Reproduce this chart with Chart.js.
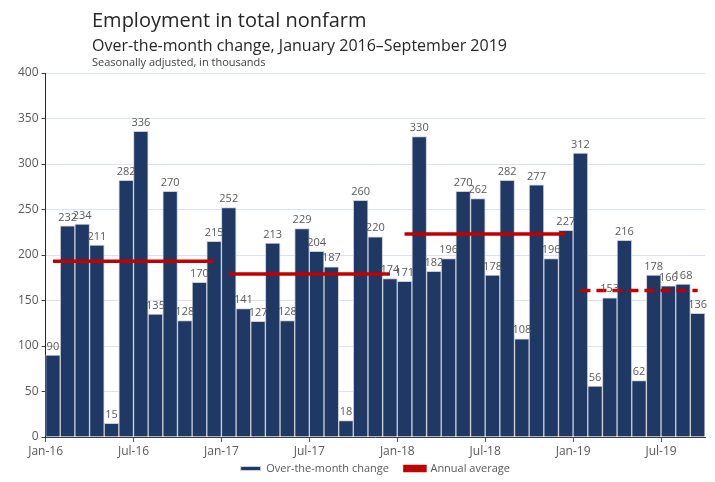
<!DOCTYPE html>
<html lang="en">
<head>
    <meta charset="UTF-8">
    <title>Employment in total nonfarm</title>
    <script src="https://cdn.jsdelivr.net/npm/chart.js"></script>
    <style>
        body {
            margin: 0;
            background: white;
            font-family: "Open Sans", Arial, sans-serif;
        }

        .wrap {
            position: relative;
            width: 715px;
            height: 482px;
        }

        .title {
            position: absolute;
            left: 92px;
            color: #262626;
            white-space: nowrap;
        }

        #t1 { top: 6px; font-size: 20px; }
        #t2 { top: 34px; font-size: 16px; }
        #t3 { top: 54px; font-size: 11px; color: #404040; }
    </style>
</head>
<body>
    <div class="wrap">
        <canvas id="chart" width="715" height="482"></canvas>
        <div class="title" id="t1">Employment in total nonfarm</div>
        <div class="title" id="t2">Over-the-month change, January 2016–September 2019</div>
        <div class="title" id="t3">Seasonally adjusted, in thousands</div>
    </div>

<script>
    const months = [
        'Jan-16', 'Feb-16', 'Mar-16', 'Apr-16', 'May-16', 'Jun-16', 'Jul-16', 'Aug-16', 'Sep-16', 'Oct-16', 'Nov-16', 'Dec-16',
        'Jan-17', 'Feb-17', 'Mar-17', 'Apr-17', 'May-17', 'Jun-17', 'Jul-17', 'Aug-17', 'Sep-17', 'Oct-17', 'Nov-17', 'Dec-17',
        'Jan-18', 'Feb-18', 'Mar-18', 'Apr-18', 'May-18', 'Jun-18', 'Jul-18', 'Aug-18', 'Sep-18', 'Oct-18', 'Nov-18', 'Dec-18',
        'Jan-19', 'Feb-19', 'Mar-19', 'Apr-19', 'May-19', 'Jun-19', 'Jul-19', 'Aug-19', 'Sep-19'
    ];

    const monthlyChange = [
        90, 232, 234, 211, 15, 282, 336, 135, 270, 128, 170, 215,
        252, 141, 127, 213, 128, 229, 204, 187, 18, 260, 220, 174,
        171, 330, 182, 196, 270, 262, 178, 282, 108, 277, 196, 227,
        312, 56, 153, 216, 62, 178, 166, 168, 136
    ];

    const avgYears = ['16', '17', '18', '19'];
    const avgValues = [193, 179, 223, 161];

    const yTicks = [0, 50, 100, 150, 200, 250, 300, 350, 400];

    // one line per year, only over that year's months
    const avgSets = avgYears.map((yy, k) => ({
        type: 'line',
        label: 'Annual average',
        data: months.map(m => m.endsWith(yy) ? avgValues[k] : null),
        borderColor: '#c00000',
        backgroundColor: '#c00000',
        borderWidth: 3.5,
        borderDash: yy === '19' ? [10, 6] : [],
        pointRadius: 0,
        spanGaps: false,
        order: 0
    }));

    const barLabels = {
        id: 'barLabels',
        afterDatasetsDraw(chart) {
            const ctx = chart.ctx;
            const meta = chart.getDatasetMeta(0);
            ctx.save();
            ctx.font = '11px "Open Sans"';
            ctx.fillStyle = '#595959';
            ctx.textAlign = 'center';
            ctx.textBaseline = 'bottom';
            meta.data.forEach((bar, i) => {
                ctx.fillText(monthlyChange[i], bar.x, bar.y - 3);
            });
            ctx.restore();
        }
    };

    // wide item spacing needs big label padding, which also pushes the row down; pull it back up
    const legendNudge = {
        id: 'legendNudge',
        afterLayout(chart) {
            chart.legend.top -= 12;
        }
    };

    new Chart(document.getElementById('chart'), {
        data: {
            labels: months,
            datasets: [
                {
                    type: 'bar',
                    label: 'Over-the-month change',
                    data: monthlyChange,
                    backgroundColor: '#1f3864',
                    borderColor: '#c9ced8',
                    borderWidth: 1,
                    barPercentage: 1,
                    categoryPercentage: 1,
                    order: 1
                },
                ...avgSets
            ]
        },
        options: {
            responsive: false,
            animation: false,
            layout: {
                padding: { top: 73, left: 15, right: 10, bottom: 0 }
            },
            plugins: {
                legend: {
                    position: 'bottom',
                    fullSize: false,
                    maxHeight: 23,
                    labels: {
                        boxWidth: 20,
                        boxHeight: 4,
                        padding: 16,
                        color: '#595959',
                        font: { family: 'Open Sans', size: 11 },
                        filter: (item) => item.datasetIndex <= 1,
                        sort: (a, b) => a.datasetIndex - b.datasetIndex
                    }
                },
                tooltip: { enabled: false }
            },
            scales: {
                x: {
                    afterFit: (axis) => { axis.height = 22; },
                    grid: {
                        offset: true,
                        drawOnChartArea: false,
                        tickLength: 5,
                        color: (c) => c.index % 6 === 0 ? '#595959' : 'rgba(0,0,0,0)'
                    },
                    border: { color: '#404040' },
                    ticks: {
                        autoSkip: false,
                        maxRotation: 0,
                        padding: 2,
                        labelOffset: -7.3,
                        color: '#595959',
                        font: { family: 'Open Sans', size: 12 },
                        callback: (v, i) => i % 6 === 0 ? months[i] : ''
                    }
                },
                y: {
                    min: 0,
                    max: 400,
                    afterBuildTicks: (axis) => { axis.ticks = yTicks.map(v => ({ value: v })); },
                    grid: {
                        color: '#dae3f3',
                        tickColor: '#404040',
                        tickLength: 4
                    },
                    border: { color: '#262626' },
                    ticks: {
                        color: '#595959',
                        font: { family: 'Open Sans', size: 12 }
                    }
                }
            }
        },
        plugins: [barLabels, legendNudge]
    });
</script>
</body>
</html>
